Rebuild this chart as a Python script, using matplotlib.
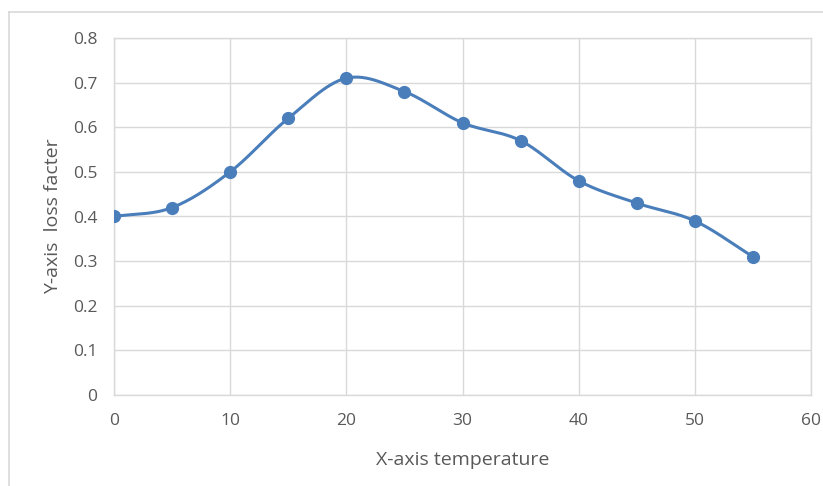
import numpy as np
import matplotlib.pyplot as plt
from matplotlib.lines import Line2D

# data
temperature = [0, 5, 10, 15, 20, 25, 30, 35, 40, 45, 50, 55]
loss_factor = [0.40, 0.42, 0.50, 0.62, 0.71, 0.68, 0.61, 0.57, 0.48, 0.43, 0.39, 0.31]
x_ticks = [0, 10, 20, 30, 40, 50, 60]
y_ticks = [0, 0.1, 0.2, 0.3, 0.4, 0.5, 0.6, 0.7, 0.8]

blue = '#4A7EBB'
grey_text = '#595959'
grid_col = '#D9D9D9'


def smooth(xs, ys, n=30):
    # Excel-like smoothed line (Catmull-Rom through the points)
    xs = np.asarray(xs, float)
    ys = np.asarray(ys, float)
    px = np.concatenate([[2 * xs[0] - xs[1]], xs, [2 * xs[-1] - xs[-2]]])
    py = np.concatenate([[2 * ys[0] - ys[1]], ys, [2 * ys[-1] - ys[-2]]])
    t = np.linspace(0, 1, n)
    outx, outy = [], []
    for i in range(1, len(px) - 2):
        for p, out in ((px, outx), (py, outy)):
            p0, p1, p2, p3 = p[i - 1], p[i], p[i + 1], p[i + 2]
            out.extend(0.5 * (2 * p1 + (-p0 + p2) * t
                              + (2 * p0 - 5 * p1 + 4 * p2 - p3) * t ** 2
                              + (-p0 + 3 * p1 - 3 * p2 + p3) * t ** 3))
    return outx, outy


plt.rcParams['font.family'] = ['Open Sans', 'DejaVu Sans']

fig = plt.figure(figsize=(8.23, 4.86), dpi=100)
ax = fig.add_axes([114 / 823, 1 - 395 / 486, (811 - 114) / 823, (395 - 38) / 486])

sx, sy = smooth(temperature, loss_factor)
ax.plot(sx, sy, color=blue, lw=2.2, solid_capstyle='round', zorder=3)
ax.plot(temperature, loss_factor, 'o', color=blue, ms=8.5, zorder=4)

ax.set_xlim(0, 60)
ax.set_ylim(0, 0.8)
ax.set_xticks(x_ticks)
ax.set_yticks(y_ticks)
ax.set_xticklabels([str(v) for v in x_ticks])
ax.set_yticklabels(['0' if v == 0 else '%.1f' % v for v in y_ticks])
ax.grid(True, color=grid_col, lw=1)
ax.set_axisbelow(True)
ax.tick_params(length=0, colors=grey_text, labelsize=12.5)
ax.tick_params(axis='x', pad=13)
ax.tick_params(axis='y', pad=12)
for s in ax.spines.values():
    s.set_color(grid_col)
    s.set_linewidth(1)

ax.set_xlabel('X-axis temperature', color=grey_text, fontsize=14, labelpad=16)
ax.set_ylabel('Y-axis  loss facter', color=grey_text, fontsize=14, labelpad=8)

# outer chart frame (partially cropped)
fig.add_artist(Line2D([9 / 823, 9 / 823], [0, 1 - 12 / 486], color='#D9D9D9', lw=1.2))
fig.add_artist(Line2D([9 / 823, 1], [1 - 12 / 486, 1 - 12 / 486], color='#D9D9D9', lw=1.2))

fig.savefig('out.png', dpi=100)
